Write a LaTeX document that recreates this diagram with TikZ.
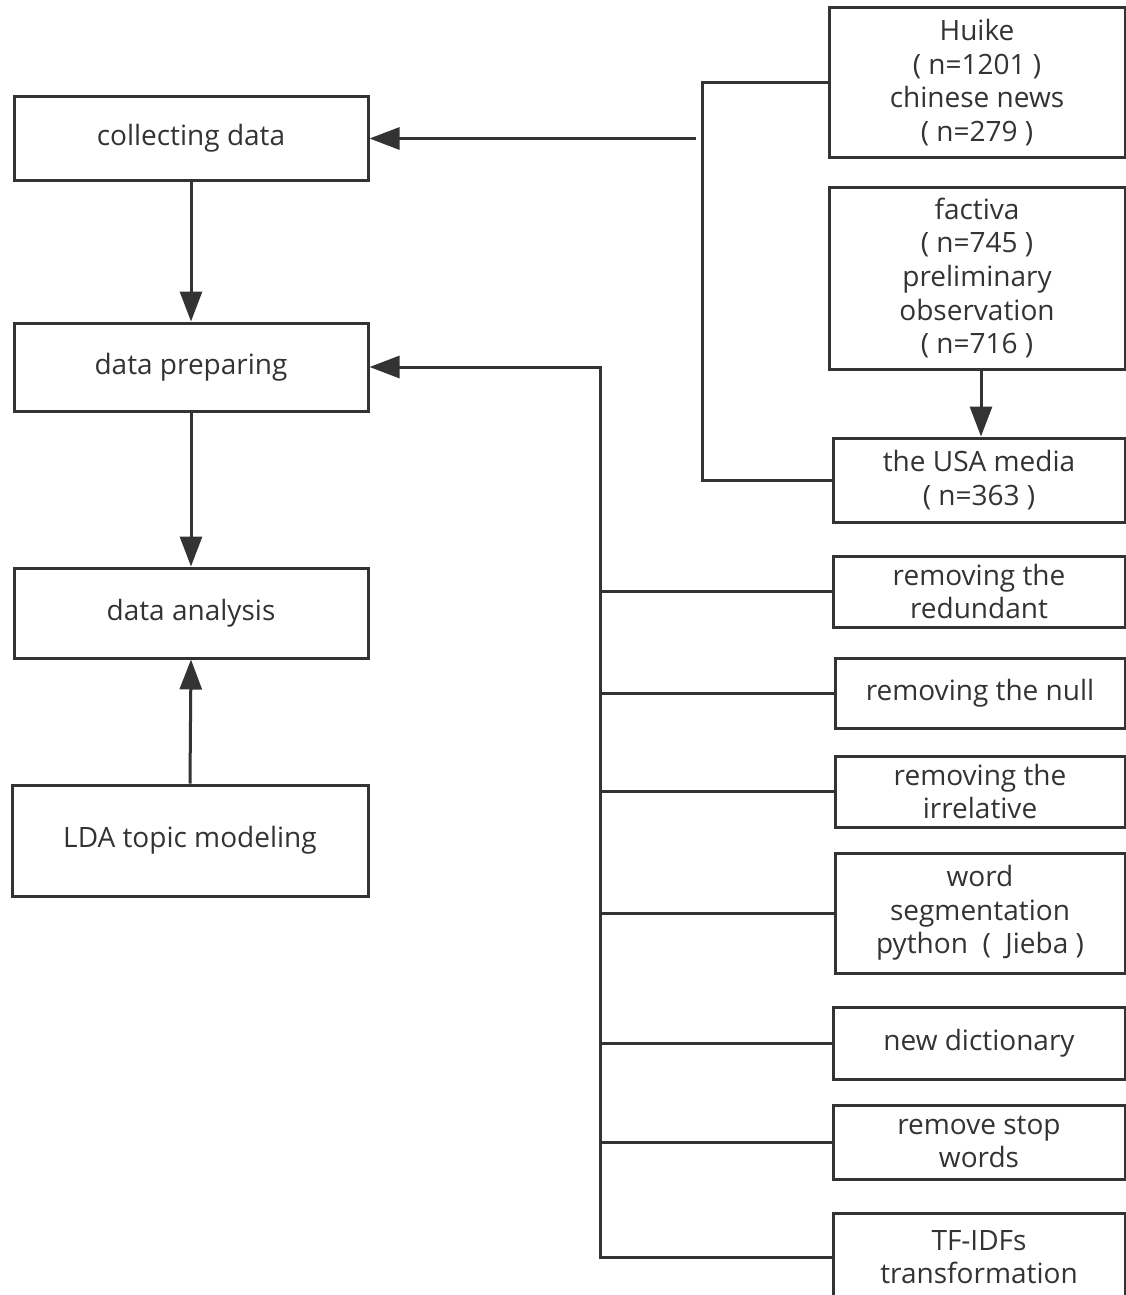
\documentclass[tikz,border=0pt]{standalone}
\usepackage{fontspec}
\setmainfont{Open Sans}
\usetikzlibrary{arrows.meta}
\definecolor{ln}{HTML}{333333}
\definecolor{tx}{HTML}{333333}
\begin{document}
\begin{tikzpicture}[x=1pt,y=-1pt,
  box/.style={draw=ln,line width=3pt,inner sep=0pt,align=center,text=tx,
    font=\fontsize{28}{33.7}\selectfont},
  conn/.style={draw=ln,line width=3pt},
  arr/.style={conn,-{Triangle[length=30pt,width=22pt]}}]
\useasboundingbox (0,0) rectangle (1126,1295);
% left column
\node[box,minimum width=354pt,minimum height=83pt] (cd) at (191,138.5) {collecting data};
\node[box,minimum width=354pt,minimum height=88pt] (dp) at (191,367) {data preparing};
\node[box,minimum width=354pt,minimum height=90pt] (da) at (191,613) {data analysis};
\node[box,minimum width=356pt,minimum height=111pt] (lda) at (190,840.5) {LDA topic modeling};
% right column
\node[box,minimum width=296pt,minimum height=149pt] (huike) at (977,82.5) {Huike\\( n=1201 )\\chinese news\\( n=279 )};
\node[box,minimum width=296pt,minimum height=182pt] (factiva) at (977,278) {factiva\\( n=745 )\\preliminary\\observation\\( n=716 )};
\node[box,minimum width=292pt,minimum height=84pt] (usa) at (979,480) {the USA media\\( n=363 )};
\node[box,minimum width=292pt,minimum height=71pt] (red) at (979,591.5) {removing the\\redundant};
\node[box,minimum width=290pt,minimum height=70pt] (null) at (980,693) {removing the null};
\node[box,minimum width=290pt,minimum height=71pt] (irr) at (980,791.5) {removing the\\irrelative};
\node[box,minimum width=290pt,minimum height=120pt] (seg) at (980,913) {word\\segmentation\\python\ \ (\ \ Jieba )};
\node[box,minimum width=292pt,minimum height=72pt] (dict) at (979,1043) {new dictionary};
\node[box,minimum width=292pt,minimum height=74pt] (stop) at (979,1142) {remove stop\\words};
\node[box,minimum width=292pt,minimum height=88pt] (tfidf) at (979,1257) {TF-IDFs\\transformation};
% coordinates
\coordinate (bx) at (702,0);
\coordinate (tail) at (696,138.5);
\coordinate (bus) at (600,367);
% left arrows
\draw[arr] (cd.south) -- (dp.north);
\draw[arr] (dp.south) -- (da.north);
\draw[arr] (lda.north) -- (da.south);
% collecting bracket
\draw[conn] (huike.west) -| (bx |- usa.west) -- (usa.west);
\draw[arr] (tail) -- (cd.east);
\draw[arr] ([xshift=4pt]factiva.south) -- ([xshift=4pt]factiva.south |- usa.north);
% preparing bus
\draw[arr] (tfidf.west) -| (bus) -- (dp.east);
\draw[conn] (red.west) -- (red.west -| bus);
\draw[conn] (null.west) -- (null.west -| bus);
\draw[conn] (irr.west) -- (irr.west -| bus);
\draw[conn] (seg.west) -- (seg.west -| bus);
\draw[conn] (dict.west) -- (dict.west -| bus);
\draw[conn] (stop.west) -- (stop.west -| bus);
\end{tikzpicture}
\end{document}
